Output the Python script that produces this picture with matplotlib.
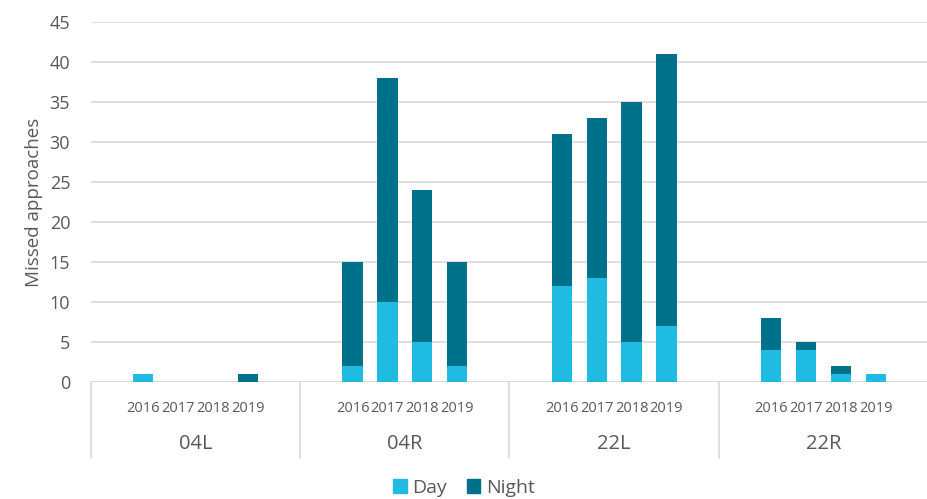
import numpy as np
import matplotlib
matplotlib.use("Agg")
import matplotlib.pyplot as plt
import matplotlib.transforms as mtransforms
from matplotlib.patches import Patch

plt.rcParams['font.family'] = ['Open Sans', 'DejaVu Sans']

runways = ["04L", "04R", "22L", "22R"]
years = ["2016", "2017", "2018", "2019"]
day = [
    [1, 0, 0, 0],
    [2, 10, 5, 2],
    [12, 13, 5, 7],
    [4, 4, 1, 1],
]
night = [
    [0, 0, 0, 1],
    [13, 28, 19, 13],
    [19, 20, 30, 34],
    [4, 1, 1, 0],
]

day_color = "#1fbbe0"
night_color = "#00718b"
text_color = "#595959"
grid_color = "#d9d9d9"

fig = plt.figure(figsize=(9.28, 4.99), dpi=100)
ax = fig.add_axes([91 / 928, 117 / 499, 837 / 928, 360 / 499])

slots = 6
xs, d_vals, n_vals = [], [], []
for g, rw in enumerate(runways):
    for i, yr in enumerate(years):
        xs.append(g * slots + 1.5 + i)
        d_vals.append(day[g][i])
        n_vals.append(night[g][i])
xs = np.array(xs)
d_vals = np.array(d_vals)
n_vals = np.array(n_vals)

ax.bar(xs, d_vals, width=0.58, color=day_color, label="Day", zorder=3)
ax.bar(xs, n_vals, width=0.58, bottom=d_vals, color=night_color, label="Night", zorder=3)

ax.set_xlim(0, slots * len(runways))
ax.set_ylim(0, 45)
ax.set_yticks(range(0, 46, 5))
ax.yaxis.grid(True, color=grid_color, linewidth=1.2, zorder=0)
for s in ax.spines.values():
    s.set_visible(False)
ax.axhline(0, color=grid_color, linewidth=1.2, zorder=1)
ax.tick_params(axis="y", length=0, pad=15, labelsize=13, labelcolor=text_color)
ax.set_xticks([])
ax.set_ylabel("Missed approaches", fontsize=13.5, color=text_color, labelpad=5)

# two-level category axis below the plot
trans = mtransforms.blended_transform_factory(ax.transData, ax.transAxes)
for x, (g, i) in zip(xs, [(g, i) for g in range(4) for i in range(4)]):
    ax.text(x, -0.075, years[i], transform=trans, ha="center", va="center",
            fontsize=10.5, color=text_color)
for g, rw in enumerate(runways):
    ax.text(g * slots + slots / 2, -0.173, rw, transform=trans, ha="center",
            va="center", fontsize=14.5, color=text_color)
for g in range(len(runways) + 1):
    ax.plot([g * slots, g * slots], [0, -0.21], transform=trans, color=grid_color,
            linewidth=1.2, clip_on=False)

handles = [Patch(color=day_color, label="Day"), Patch(color=night_color, label="Night")]
fig.legend(handles=handles, loc="center", bbox_to_anchor=(0.5, 11 / 499), ncol=2,
           frameon=False, fontsize=14, handlelength=0.7, handleheight=0.7,
           handletextpad=0.3, columnspacing=1.0, labelcolor=text_color)

fig.savefig("out.png", dpi=100)
